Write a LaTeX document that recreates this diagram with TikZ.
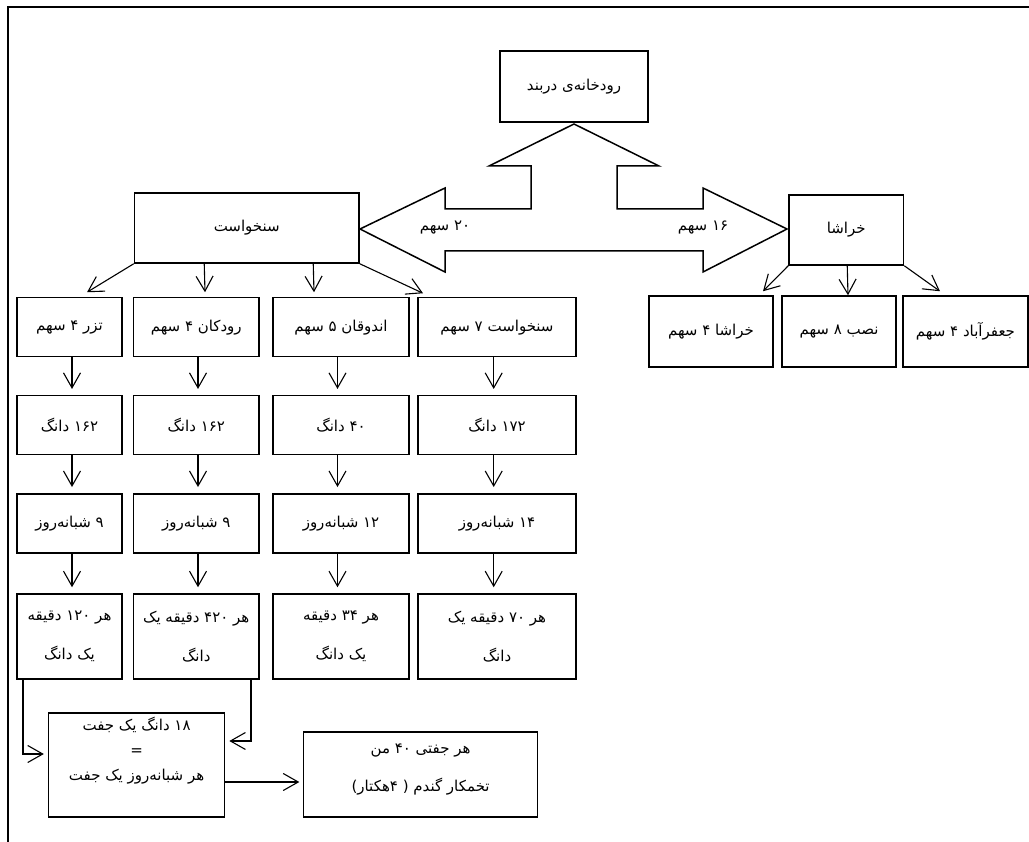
\documentclass[tikz,border=0pt]{standalone}
\usepackage{fontspec}
\usetikzlibrary{arrows.meta,calc}
\TeXXeTstate=1
\newfontfamily\persianfont[Script=Arabic]{DejaVu Sans}
\begin{document}
\begin{tikzpicture}[x=1pt,y=-1pt,
  box/.style={draw,line width=1.5pt,inner sep=0pt,align=center,font=\persianfont\fontsize{15}{18}\selectfont},
  tall/.style={box,font=\persianfont\fontsize{15}{39}\selectfont},
  lbl/.style={inner sep=0pt,align=center,font=\persianfont\fontsize{15}{18}\selectfont},
  arr/.style={line width=1.1pt,-{Straight Barb[length=15pt,width=17pt]}},
  bigarrow/.style={draw,line width=1.5pt,line join=miter},
  frame/.style={line width=2pt}
]
\useasboundingbox (0,0) rectangle (1029,842);
\draw[frame] (1029,7.5) -- (7.5,7.5) -- (7.5,842);

% top level
\node[box,minimum width=148pt,minimum height=71pt] (top) at (574,86.5) {\beginR رودخانه‌ی دربند\endR};
\node[box,minimum width=224.5pt,minimum height=70pt] (sanx) at (246.75,228) {\beginR سنخواست\endR};
\node[box,minimum width=114.5pt,minimum height=70pt] (khar) at (846.25,230) {\beginR خراشا\endR};

% big double arrow
\draw[bigarrow] (574,124) -- (659,166) -- (617,166) -- (617,209) -- (703,209) -- (703,188)
  -- (787,229) -- (703,272) -- (703,251) -- (445,251) -- (445,272) -- (360,229)
  -- (445,188) -- (445,209) -- (531,209) -- (531,166) -- (489,166) -- cycle;
\node[lbl] (l20) at (445,228) {\beginR ۲۰ سهم\endR};
\node[lbl] (l16) at (703,228) {\beginR ۱۶ سهم\endR};

% khorasha branches
\node[box,minimum width=124pt,minimum height=71pt] (k1) at (711,331.5) {\beginR خراشا ۴ سهم\endR};
\node[box,minimum width=114pt,minimum height=71pt] (k2) at (839,331.5) {\beginR نصب ۸ سهم\endR};
\node[box,minimum width=125pt,minimum height=71pt] (k3) at (965.5,331.5) {\beginR جعفرآباد ۴ سهم\endR};
\draw[arr] (khar.south west) -- ($(k1.north)+(52,-4)$);
\draw[arr] ($(khar.south west)+(59,0)$) -- ($(k2.north)+(9,0)$);
\draw[arr] (khar.south east) -- ($(k3.north)+(-25.5,-4)$);

% columns, row 1
\node[box,minimum width=105pt,minimum height=59pt] (c1r1) at (69.5,327.2) {\beginR تزر ۴ سهم\endR};
\node[box,minimum width=125.5pt,minimum height=59pt] (c2r1) at (196.25,327.2) {\beginR رودکان ۴ سهم\endR};
\node[box,minimum width=136pt,minimum height=59pt] (c3r1) at (341,327.2) {\beginR اندوقان ۵ سهم\endR};
\node[box,minimum width=158pt,minimum height=59pt] (c4r1) at (497,327.2) {\beginR سنخواست ۷ سهم\endR};
% row 2
\node[box,minimum width=105pt,minimum height=59pt] (c1r2) at (69.5,425.2) {\beginR ۱۶۲ دانگ\endR};
\node[box,minimum width=125.5pt,minimum height=59pt] (c2r2) at (196.25,425.2) {\beginR ۱۶۲ دانگ\endR};
\node[box,minimum width=136pt,minimum height=59pt] (c3r2) at (341,425.2) {\beginR ۴۰ دانگ\endR};
\node[box,minimum width=158pt,minimum height=59pt] (c4r2) at (497,425.2) {\beginR ۱۷۲ دانگ\endR};
% row 3
\node[box,minimum width=105pt,minimum height=59pt] (c1r3) at (69.5,523.3) {\beginR ۹ شبانه‌روز\endR};
\node[box,minimum width=125.5pt,minimum height=59pt] (c2r3) at (196.25,523.3) {\beginR ۹ شبانه‌روز\endR};
\node[box,minimum width=136pt,minimum height=59pt] (c3r3) at (341,523.3) {\beginR ۱۲ شبانه‌روز\endR};
\node[box,minimum width=158pt,minimum height=59pt] (c4r3) at (497,523.3) {\beginR ۱۴ شبانه‌روز\endR};
% row 4
\node[tall,minimum width=105pt,minimum height=85pt] (c1r4) at (69.5,636.5) {\beginR هر ۱۲۰ دقیقه\endR\\\beginR یک دانگ\endR};
\node[tall,minimum width=125.5pt,minimum height=85pt] (c2r4) at (196.25,636.5) {\beginR هر ۴۲۰ دقیقه یک\endR\\\beginR دانگ\endR};
\node[tall,minimum width=136pt,minimum height=85pt] (c3r4) at (341,636.5) {\beginR هر ۳۴ دقیقه\endR\\\beginR یک دانگ\endR};
\node[tall,minimum width=158pt,minimum height=85pt] (c4r4) at (497,636.5) {\beginR هر ۷۰ دقیقه یک\endR\\\beginR دانگ\endR};

% sankhast branches
\draw[arr] (sanx.south west) -- ($(c1r1.north)+(17.5,-4.7)$);
\draw[arr] ($(sanx.south west)+(70.5,0)$) -- ($(c2r1.north)+(8.75,-4.7)$);
\draw[arr] ($(sanx.south west)+(179.5,0)$) -- ($(c3r1.north)+(-27,-4.7)$);
\draw[arr] (sanx.south east) -- ($(c4r1.north)+(-74,-3.7)$);

% vertical arrows
\foreach \ci/\dx in {1/2.5,2/1.75,3/-3.5,4/-3.3}{
  \foreach \ri/\si in {1/2,2/3,3/4}{
    \draw[arr,shorten >=6pt] ([xshift=\dx pt]c\ci r\ri.south) -- ([xshift=\dx pt]c\ci r\si.north);
  }
}

% bottom boxes
\node[box,minimum width=176pt,minimum height=104pt,
  label={[lbl,font=\persianfont\fontsize{15}{25}\selectfont,yshift=14pt]center:{\beginR ۱۸ دانگ یک جفت\endR\\=\\\beginR هر شبانه‌روز یک جفت\endR}}] (b18) at (136.6,765) {};
\node[box,minimum width=234pt,minimum height=85pt,
  label={[lbl,font=\persianfont\fontsize{15}{38}\selectfont,yshift=5pt]center:{\beginR هر جفتی ۴۰ من\endR\\\beginR تخمکار گندم ( ۴هکتار)\endR}}] (jft) at (420.6,774.5) {};

\draw[arr,shorten >=4pt] ([xshift=-46.5pt]c1r4.south) |- ([yshift=11pt]b18.west);
\draw[arr,shorten >=4pt] ([xshift=54.75pt]c2r4.south) |- ([yshift=24pt]b18.east);
\draw[arr,shorten >=3.5pt] ([yshift=-17pt]b18.east) -- ([yshift=-17pt]b18.east -| jft.west);
\end{tikzpicture}
\end{document}
